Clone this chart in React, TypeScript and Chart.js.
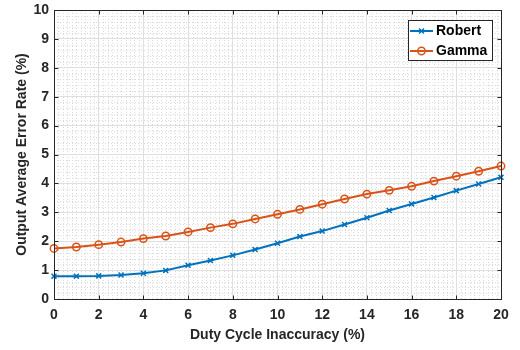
import React, { useEffect, useRef } from "react";
import { Chart, registerables } from "chart.js";

Chart.register(...registerables);

const dutyCycle = [0, 1, 2, 3, 4, 5, 6, 7, 8, 9, 10, 11, 12, 13, 14, 15, 16, 17, 18, 19, 20];
const robert = [0.79, 0.79, 0.8, 0.83, 0.89, 0.99, 1.17, 1.33, 1.51, 1.71, 1.93, 2.16, 2.35, 2.58, 2.81, 3.06, 3.29, 3.51, 3.75, 3.98, 4.21];
const gamma = [1.75, 1.8, 1.88, 1.97, 2.09, 2.18, 2.32, 2.47, 2.6, 2.77, 2.93, 3.1, 3.28, 3.46, 3.63, 3.76, 3.9, 4.08, 4.25, 4.42, 4.6];
const seriesNames = ["Robert", "Gamma"];
const seriesColors = ["#0072BD", "#D95319"];
const xTitle = "Duty Cycle Inaccuracy (%)";
const yTitle = "Output Average Error Rate (%)";
const xRange = [0, 20];
const yRange = [0, 10];
const xMajorStep = 2;
const yMajorStep = 1;
const minorStep = 0.2;

const FONT = "'Liberation Sans', Arial, Helvetica, sans-serif";
const AXIS_COLOR = "#262626";

const matlabPlugin = {
  id: "matlabDecor",
  beforeDraw(chart: any) {
    const { ctx, chartArea, scales } = chart;
    const xs = scales.x;
    const ys = scales.y;
    ctx.save();
    ctx.strokeStyle = "#dadada";
    ctx.lineWidth = 1;
    ctx.setLineDash([1, 2]);
    const nx = Math.round((xRange[1] - xRange[0]) / minorStep);
    for (let i = 1; i < nx; i++) {
      const v = xRange[0] + i * minorStep;
      if (Math.abs(v / xMajorStep - Math.round(v / xMajorStep)) < 1e-6) continue;
      const px = Math.round(xs.getPixelForValue(v)) + 0.5;
      ctx.beginPath();
      ctx.moveTo(px, chartArea.top);
      ctx.lineTo(px, chartArea.bottom);
      ctx.stroke();
    }
    const ny = Math.round((yRange[1] - yRange[0]) / minorStep);
    for (let i = 1; i < ny; i++) {
      const v = yRange[0] + i * minorStep;
      if (Math.abs(v / yMajorStep - Math.round(v / yMajorStep)) < 1e-6) continue;
      const py = Math.round(ys.getPixelForValue(v)) + 0.5;
      ctx.beginPath();
      ctx.moveTo(chartArea.left, py);
      ctx.lineTo(chartArea.right, py);
      ctx.stroke();
    }
    ctx.restore();
  },
  afterDraw(chart: any) {
    const { ctx, chartArea, scales } = chart;
    const xs = scales.x;
    const ys = scales.y;
    const L = Math.round(chartArea.left) + 0.5;
    const R = Math.round(chartArea.right) + 0.5;
    const T = Math.round(chartArea.top) + 0.5;
    const B = Math.round(chartArea.bottom) + 0.5;
    ctx.save();
    ctx.strokeStyle = AXIS_COLOR;
    ctx.lineWidth = 1;
    ctx.setLineDash([]);
    ctx.strokeRect(L, T, R - L, B - T);
    const tl = 4;
    for (let v = xRange[0]; v <= xRange[1] + 1e-9; v += xMajorStep) {
      const px = Math.round(xs.getPixelForValue(v)) + 0.5;
      ctx.beginPath();
      ctx.moveTo(px, B);
      ctx.lineTo(px, B - tl);
      ctx.moveTo(px, T);
      ctx.lineTo(px, T + tl);
      ctx.stroke();
    }
    for (let v = yRange[0]; v <= yRange[1] + 1e-9; v += yMajorStep) {
      const py = Math.round(ys.getPixelForValue(v)) + 0.5;
      ctx.beginPath();
      ctx.moveTo(L, py);
      ctx.lineTo(L + tl, py);
      ctx.moveTo(R, py);
      ctx.lineTo(R - tl, py);
      ctx.stroke();
    }

    // legend box
    const bx = 408.5, by = 20.5, bw = 84, bh = 40;
    ctx.fillStyle = "#ffffff";
    ctx.fillRect(bx, by, bw, bh);
    ctx.strokeStyle = AXIS_COLOR;
    ctx.strokeRect(bx, by, bw, bh);
    const rows = [31, 51];
    chart.data.datasets.forEach((ds: any, i: number) => {
      const cy = rows[i];
      ctx.strokeStyle = ds.borderColor;
      ctx.lineWidth = 2;
      ctx.beginPath();
      ctx.moveTo(410, cy);
      ctx.lineTo(433, cy);
      ctx.stroke();
      ctx.lineWidth = 1.5;
      ctx.beginPath();
      if (ds.pointStyle === "circle") {
        ctx.arc(421.5, cy, ds.pointRadius, 0, Math.PI * 2);
      } else {
        const d = ds.pointRadius * 0.707;
        ctx.moveTo(421.5 - d, cy - d);
        ctx.lineTo(421.5 + d, cy + d);
        ctx.moveTo(421.5 - d, cy + d);
        ctx.lineTo(421.5 + d, cy - d);
      }
      ctx.stroke();
      ctx.fillStyle = "#000000";
      ctx.font = `bold 14px ${FONT}`;
      ctx.textAlign = "left";
      ctx.textBaseline = "middle";
      ctx.fillText(ds.label, 436, cy + 0.5);
    });
    ctx.restore();
  },
};

export default function App() {
  const canvasRef = useRef<HTMLCanvasElement | null>(null);

  useEffect(() => {
    const canvas = canvasRef.current;
    if (!canvas) return;
    const chart = new Chart(canvas, {
      type: "line",
      data: {
        labels: dutyCycle,
        datasets: [
          {
            label: seriesNames[0],
            data: dutyCycle.map((x, i) => ({ x, y: robert[i] })),
            borderColor: seriesColors[0],
            backgroundColor: seriesColors[0],
            borderWidth: 2,
            pointStyle: "crossRot",
            pointRadius: 3.5,
            pointBorderWidth: 1.5,
            pointBorderColor: seriesColors[0],
            pointBackgroundColor: "rgba(0,0,0,0)",
            tension: 0,
            clip: false,
          },
          {
            label: seriesNames[1],
            data: dutyCycle.map((x, i) => ({ x, y: gamma[i] })),
            borderColor: seriesColors[1],
            backgroundColor: seriesColors[1],
            borderWidth: 2,
            pointStyle: "circle",
            pointRadius: 3.7,
            pointBorderWidth: 1.5,
            pointBorderColor: seriesColors[1],
            pointBackgroundColor: "rgba(0,0,0,0)",
            tension: 0,
            clip: false,
          },
        ],
      } as any,
      options: {
        animation: false,
        responsive: false,
        devicePixelRatio: 1,
        layout: { padding: { left: 0, right: 19, top: 10, bottom: 0 } },
        plugins: {
          legend: { display: false },
          tooltip: { enabled: false },
        },
        scales: {
          x: {
            type: "linear",
            min: xRange[0],
            max: xRange[1],
            afterFit: (s: any) => {
              s.height = 51;
              s.paddingLeft = 0;
              s.paddingRight = 0;
            },
            ticks: {
              stepSize: xMajorStep,
              color: AXIS_COLOR,
              font: { family: FONT, size: 14, weight: "bold" },
              padding: 8,
              maxRotation: 0,
            },
            grid: { color: "#dfdfdf", lineWidth: 1, drawTicks: false },
            border: { display: false },
            title: {
              display: true,
              text: xTitle,
              color: AXIS_COLOR,
              font: { family: FONT, size: 14, weight: "bold" },
              padding: { top: 0, bottom: 6 },
            },
          },
          y: {
            type: "linear",
            min: yRange[0],
            max: yRange[1],
            afterFit: (s: any) => {
              s.width = 54;
              s.paddingTop = 0;
              s.paddingBottom = 0;
            },
            ticks: {
              stepSize: yMajorStep,
              color: AXIS_COLOR,
              font: { family: FONT, size: 14, weight: "bold" },
              padding: 5,
            },
            grid: { color: "#dfdfdf", lineWidth: 1, drawTicks: false },
            border: { display: false },
            title: {
              display: true,
              text: yTitle,
              color: AXIS_COLOR,
              font: { family: FONT, size: 14, weight: "bold" },
              padding: { top: 14, bottom: 0 },
            },
          },
        },
      } as any,
      plugins: [matlabPlugin],
    });
    return () => chart.destroy();
  }, []);

  return (
    <div style={{ position: "absolute", left: 0, top: 0, width: 520, height: 350, background: "#ffffff" }}>
      <canvas ref={canvasRef} width={520} height={350} style={{ display: "block" }} />
    </div>
  );
}
